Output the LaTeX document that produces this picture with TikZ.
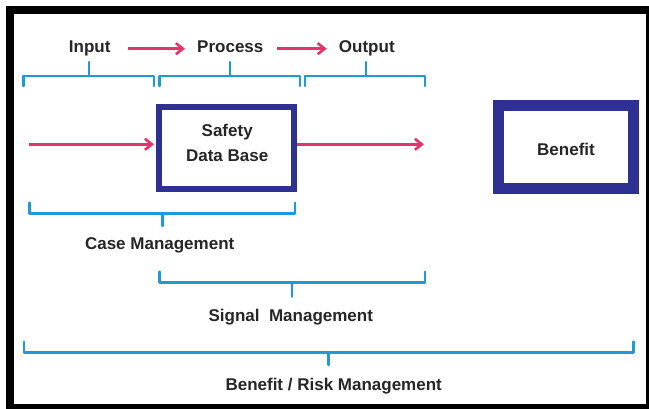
\documentclass[tikz,border=0pt]{standalone}
\usepackage{fontspec}
\setmainfont{Liberation Sans}
\usetikzlibrary{arrows.meta}
\definecolor{arrowcol}{RGB}{230,51,106}
\definecolor{boxcol}{RGB}{46,49,146}
\definecolor{bracecol}{RGB}{30,154,214}
\definecolor{textcol}{RGB}{38,38,38}
\tikzset{
  lbl/.style={font=\fontsize{17}{20}\selectfont\bfseries, text=textcol, inner sep=0pt,
    text height=12.2pt, text depth=3.6pt, anchor=base},
  flow/.style={->, draw=arrowcol, line width=2.6pt},
  brace/.style={draw=bracecol, line width=2.6pt, line join=round, line cap=round},
  dbbox/.style={draw=boxcol, inner sep=0pt, line join=miter},
}
\begin{document}
\begin{tikzpicture}[x=1pt,y=-1pt,>={Straight Barb[length=7pt,width=11pt]},line join=miter]
  \useasboundingbox (0,0) rectangle (649,409);
  % Frame
  \draw [line width=8pt] (10,10.5) rectangle (650.3,408);
  % Node: input, process, output
  \node [lbl] (input) at (89.7,53) {Input};
  \node [lbl] (process) at (230.3,53) {Process};
  \node [lbl] (output) at (366.8,53) {Output};
  % Node: sdb
  \node [dbbox, line width=6pt, minimum width=135.8pt, minimum height=81.7pt] (sdb) at (226.4,147.85) {};
  \node [lbl] (safety) at (227.2,137) {Safety};
  \node [lbl] (database) at (227.2,162) {Data Base};
  % Node: benefit
  \node [dbbox, line width=11pt, minimum width=135pt, minimum height=82.5pt] (benefit) at (565.5,147.2) {};
  \node [lbl] (benefittext) at (566,155.5) {Benefit};
  % Node: management labels
  \node [lbl] (casemgmt) at (159.7,250) {Case Management};
  \node [lbl] (signalmgmt) at (290.8,321.5) {Signal\ \ Management};
  \node [lbl] (brmgmt) at (333.7,390) {Benefit / Risk Management};
  % Edge: input -> process
  \draw [flow, shorten <=17pt, shorten >=12pt] (input) -- (process);
  % Edge: process -> output
  \draw [flow, shorten <=13.5pt, shorten >=12pt] (process) -- (output);
  % Edge: in -> sdb
  \coordinate (in) at (29,144.3);
  \draw [flow, shorten >=1.5pt] (in) -- (in -| sdb.west);
  % Edge: sdb -> out
  \coordinate (out) at (424,144.3);
  \draw [flow] (out -| sdb.east) -- (out);
  % Braces: top
  \draw [brace] (23.3,86) -- (23.3,76) -- (154,76) -- (154,86) (89,76) -- (89,62);
  \draw [brace] (159.3,86) -- (159.3,76) -- (300,76) -- (300,86) (230,76) -- (230,62);
  \draw [brace] (305,86) -- (305,76) -- (425,76) -- (425,86) (366,76) -- (366,62);
  % Braces: bottom
  \draw [brace] (29.3,202.7) -- (29.3,213.3) -- (295,213.3) -- (295,202.7) (162.3,213.3) -- (162.3,226);
  \draw [brace] (159.3,271.7) -- (159.3,282.7) -- (425,282.7) -- (425,271.7) (292,282.7) -- (292,296.7);
  \draw [brace] (24,341.7) -- (24,352.3) -- (633.3,352.3) -- (633.3,341.7) (328.3,352.3) -- (328.3,365);
%
\end{tikzpicture}
\end{document}
